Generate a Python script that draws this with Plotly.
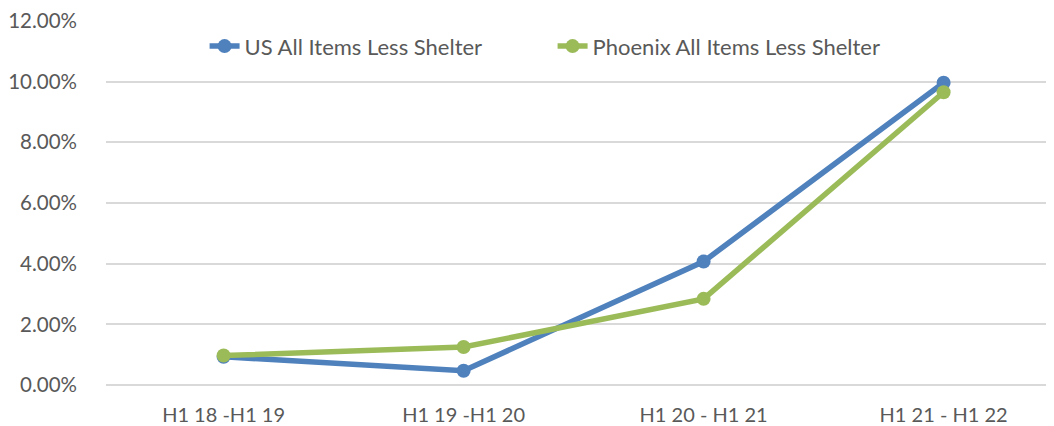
import plotly.graph_objects as go

categories = ["H1 18 -H1 19", "H1 19 -H1 20", "H1 20 - H1 21", "H1 21 - H1 22"]
us_values = [0.0093, 0.0047, 0.0407, 0.0996]
phx_values = [0.0097, 0.0125, 0.0284, 0.0965]
y_ticks = [0, 0.02, 0.04, 0.06, 0.08, 0.10, 0.12]
y_tick_labels = ["0.00%", "2.00%", "4.00%", "6.00%", "8.00%", "10.00%", "12.00%"]

fig = go.Figure()
fig.add_trace(go.Scatter(
    x=list(range(len(categories))), y=us_values, name="US All Items Less Shelter",
    mode="lines+markers", line=dict(color="#4F81BD", width=5.5),
    marker=dict(size=14, color="#4F81BD")))
fig.add_trace(go.Scatter(
    x=list(range(len(categories))), y=phx_values, name="Phoenix All Items Less Shelter",
    mode="lines+markers", line=dict(color="#9BBB59", width=5.5),
    marker=dict(size=14, color="#9BBB59")))

fig.update_layout(
    width=1046, height=418,
    margin=dict(l=97, r=0, t=11, b=40),
    plot_bgcolor="white", paper_bgcolor="white",
    font=dict(family="Lato, Open Sans, sans-serif", color="#595959", size=20),
    legend=dict(orientation="h", x=0.104, xanchor="left", y=0.928, yanchor="middle",
                font=dict(size=22, color="#595959"), entrywidth=303, tracegroupgap=0,
                bgcolor="rgba(0,0,0,0)"),
    xaxis=dict(tickmode="array", tickvals=list(range(len(categories))), ticktext=categories,
               range=[-0.49, 3.46], showgrid=False, zeroline=False, showline=False,
               ticks="", tickfont=dict(size=20), ticklabelstandoff=16),
    yaxis=dict(tickmode="array", tickvals=y_ticks, ticktext=y_tick_labels,
               range=[0, 0.1203], showgrid=True, gridcolor="#D9D9D9", gridwidth=1.5,
               zeroline=True, zerolinecolor="#D9D9D9", zerolinewidth=1.5,
               showline=False, ticks="", tickfont=dict(size=20.5), ticklabelstandoff=28,
               ticklabeloverflow="allow"),
)
fig.write_html("out.html")
